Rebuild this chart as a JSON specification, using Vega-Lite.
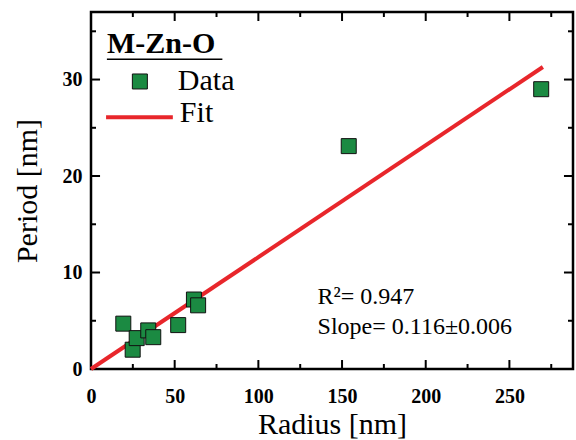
{
  "$schema": "https://vega.github.io/schema/vega-lite/v6.json",
  "width": 482,
  "height": 357,
  "autosize": {"type": "none"},
  "padding": {"left": 91, "top": 12, "right": 3, "bottom": 71},
  "background": "white",
  "config": {
    "view": {"stroke": "black", "strokeWidth": 2.5},
    "font": "Liberation Serif",
    "axis": {"domain": false, "grid": false, "labelColor": "black", "titleColor": "black", "labelFlush": false}
  },
  "datasets": {
    "points": [
      {"radius": 19.3, "period": 4.7},
      {"radius": 24.9, "period": 2.0},
      {"radius": 27.3, "period": 3.2},
      {"radius": 34.2, "period": 4.0},
      {"radius": 37.2, "period": 3.3},
      {"radius": 52.1, "period": 4.55},
      {"radius": 61.5, "period": 7.2},
      {"radius": 64.0, "period": 6.6},
      {"radius": 154.0, "period": 23.1},
      {"radius": 269.0, "period": 29.0}
    ],
    "fit": [
      {"radius": 0, "period": 0},
      {"radius": 270, "period": 31.3}
    ],
    "xmajor": [{"v": 50}, {"v": 100}, {"v": 150}, {"v": 200}, {"v": 250}],
    "xminor": [{"v": 25}, {"v": 75}, {"v": 125}, {"v": 175}, {"v": 225}, {"v": 275}],
    "ymajor": [{"v": 10}, {"v": 20}, {"v": 30}],
    "yminor": [{"v": 5}, {"v": 15}, {"v": 25}, {"v": 35}],
    "one": [{}]
  },
  "layer": [
    {
      "data": {"name": "xmajor"},
      "mark": {"type": "rule", "color": "black", "strokeWidth": 2},
      "encoding": {
        "x": {"field": "v", "type": "quantitative", "scale": {"domain": [0, 288], "nice": false, "zero": false},
          "axis": {"orient": "bottom", "values": [0, 50, 100, 150, 200, 250], "ticks": false, "tickSize": 0, "labelPadding": 17, "labelFontSize": 20, "labelFontWeight": "bold", "labelFont": "Liberation Serif", "title": "Radius  [nm]", "titleFontSize": 30, "titleFontWeight": "normal", "titleFont": "Liberation Serif", "titlePadding": 3}},
        "y": {"datum": 0, "type": "quantitative", "scale": {"domain": [0, 37], "nice": false, "zero": false},
          "axis": {"orient": "left", "values": [0, 10, 20, 30], "ticks": false, "tickSize": 0, "labelPadding": 9, "labelFontSize": 20, "labelFontWeight": "bold", "labelFont": "Liberation Serif", "title": "Period [nm]", "titleFontSize": 30, "titleFontWeight": "normal", "titleFont": "Liberation Serif", "titlePadding": 20}},
        "y2": {"datum": 0.93}
      }
    },
    {
      "data": {"name": "xmajor"},
      "mark": {"type": "rule", "color": "black", "strokeWidth": 2},
      "encoding": {
        "x": {"field": "v", "type": "quantitative"},
        "y": {"datum": 37, "type": "quantitative"},
        "y2": {"datum": 36.07}
      }
    },
    {
      "data": {"name": "xminor"},
      "mark": {"type": "rule", "color": "black", "strokeWidth": 2},
      "encoding": {
        "x": {"field": "v", "type": "quantitative"},
        "y": {"datum": 0, "type": "quantitative"},
        "y2": {"datum": 0.52}
      }
    },
    {
      "data": {"name": "xminor"},
      "mark": {"type": "rule", "color": "black", "strokeWidth": 2},
      "encoding": {
        "x": {"field": "v", "type": "quantitative"},
        "y": {"datum": 37, "type": "quantitative"},
        "y2": {"datum": 36.48}
      }
    },
    {
      "data": {"name": "ymajor"},
      "mark": {"type": "rule", "color": "black", "strokeWidth": 2},
      "encoding": {
        "y": {"field": "v", "type": "quantitative"},
        "x": {"datum": 0, "type": "quantitative"},
        "x2": {"datum": 5.4}
      }
    },
    {
      "data": {"name": "ymajor"},
      "mark": {"type": "rule", "color": "black", "strokeWidth": 2},
      "encoding": {
        "y": {"field": "v", "type": "quantitative"},
        "x": {"datum": 288, "type": "quantitative"},
        "x2": {"datum": 282.6}
      }
    },
    {
      "data": {"name": "yminor"},
      "mark": {"type": "rule", "color": "black", "strokeWidth": 2},
      "encoding": {
        "y": {"field": "v", "type": "quantitative"},
        "x": {"datum": 0, "type": "quantitative"},
        "x2": {"datum": 3.0}
      }
    },
    {
      "data": {"name": "yminor"},
      "mark": {"type": "rule", "color": "black", "strokeWidth": 2},
      "encoding": {
        "y": {"field": "v", "type": "quantitative"},
        "x": {"datum": 288, "type": "quantitative"},
        "x2": {"datum": 285.0}
      }
    },
    {
      "data": {"name": "fit"},
      "mark": {"type": "line", "color": "#e8262b", "strokeWidth": 4},
      "encoding": {
        "x": {"field": "radius", "type": "quantitative"},
        "y": {"field": "period", "type": "quantitative"}
      }
    },
    {
      "data": {"name": "points"},
      "mark": {"type": "square", "size": 225, "filled": true, "fill": "#1b8a42", "stroke": "#111111", "strokeWidth": 1, "opacity": 1},
      "encoding": {
        "x": {"field": "radius", "type": "quantitative"},
        "y": {"field": "period", "type": "quantitative"}
      }
    },
    {
      "data": {"name": "one"},
      "mark": {"type": "text", "text": "R²=  0.947", "align": "left", "baseline": "middle", "fontSize": 24, "font": "Liberation Serif", "color": "black"},
      "encoding": {
        "x": {"datum": 135.4, "type": "quantitative"},
        "y": {"datum": 7.5, "type": "quantitative"}
      }
    },
    {
      "data": {"name": "one"},
      "mark": {"type": "text", "text": "Slope= 0.116±0.006", "align": "left", "baseline": "middle", "fontSize": 24, "font": "Liberation Serif", "color": "black"},
      "encoding": {
        "x": {"datum": 135.4, "type": "quantitative"},
        "y": {"datum": 4.35, "type": "quantitative"}
      }
    },
    {
      "data": {"name": "one"},
      "mark": {"type": "text", "text": "M-Zn-O", "align": "left", "baseline": "middle", "fontSize": 30, "fontWeight": "bold", "font": "Liberation Serif", "color": "black"},
      "encoding": {
        "x": {"datum": 9.5, "type": "quantitative"},
        "y": {"datum": 33.7, "type": "quantitative"}
      }
    },
    {
      "data": {"name": "one"},
      "mark": {"type": "rule", "color": "black", "strokeWidth": 1.5},
      "encoding": {
        "x": {"datum": 9.5, "type": "quantitative"},
        "x2": {"datum": 78.5},
        "y": {"datum": 32.1, "type": "quantitative"}
      }
    },
    {
      "data": {"name": "one"},
      "mark": {"type": "square", "size": 225, "filled": true, "fill": "#1b8a42", "stroke": "#111111", "strokeWidth": 1, "opacity": 1},
      "encoding": {
        "x": {"datum": 29.2, "type": "quantitative"},
        "y": {"datum": 29.8, "type": "quantitative"}
      }
    },
    {
      "data": {"name": "one"},
      "mark": {"type": "text", "text": "Data", "align": "left", "baseline": "middle", "fontSize": 30, "font": "Liberation Serif", "color": "black"},
      "encoding": {
        "x": {"datum": 51.9, "type": "quantitative"},
        "y": {"datum": 29.8, "type": "quantitative"}
      }
    },
    {
      "data": {"name": "one"},
      "mark": {"type": "rule", "color": "#e8262b", "strokeWidth": 4},
      "encoding": {
        "x": {"datum": 9.0, "type": "quantitative"},
        "x2": {"datum": 48.9},
        "y": {"datum": 26.1, "type": "quantitative"}
      }
    },
    {
      "data": {"name": "one"},
      "mark": {"type": "text", "text": "Fit", "align": "left", "baseline": "middle", "fontSize": 30, "font": "Liberation Serif", "color": "black"},
      "encoding": {
        "x": {"datum": 53.1, "type": "quantitative"},
        "y": {"datum": 26.5, "type": "quantitative"}
      }
    }
  ]
}
